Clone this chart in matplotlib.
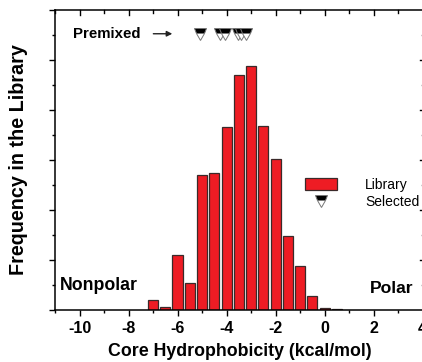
import matplotlib.pyplot as plt
from matplotlib.ticker import MultipleLocator, NullFormatter

plt.rcParams['font.family'] = ['Liberation Sans', 'DejaVu Sans']
plt.rcParams['axes.unicode_minus'] = False

# library histogram (bin centre in kcal/mol, relative frequency)
bin_centers = [-7.0, -6.5, -6.0, -5.5, -5.0, -4.5, -4.0, -3.5, -3.0, -2.5,
               -2.0, -1.5, -1.0, -0.5, 0.0, 0.5]
frequency = [0.40, 0.11, 2.20, 1.08, 5.39, 5.48, 7.33, 9.39, 9.75, 7.37,
             6.03, 2.95, 1.77, 0.55, 0.08, 0.04]

# premixed / selected sequences
selected_x = [-5.08, -4.25, -4.05, -3.55, -3.40, -3.20]
selected_y = [11.05] * len(selected_x)

fig = plt.figure(figsize=(4.22, 3.62), dpi=100)
ax = fig.add_axes([55 / 422, 52 / 362, 370 / 422, 300 / 362])

bars = ax.bar(bin_centers, frequency, width=0.41, color='#ee1c24',
              edgecolor='#3a2a2a', linewidth=0.9, label='Library')
sel, = ax.plot(selected_x, selected_y, linestyle='none', marker='v',
               markersize=8.5, fillstyle='top', markerfacecolor='black',
               markerfacecoloralt='white', markeredgecolor='#777777',
               markeredgewidth=0.7, label='Selected')

ax.set_xlim(-11, 4.1)
ax.set_ylim(0, 12)
ax.xaxis.set_major_locator(MultipleLocator(2))
ax.xaxis.set_minor_locator(MultipleLocator(1))
ax.yaxis.set_major_locator(MultipleLocator(2))
ax.yaxis.set_minor_locator(MultipleLocator(1))
ax.yaxis.set_major_formatter(NullFormatter())

for side in ['top', 'bottom', 'left', 'right']:
    ax.spines[side].set_linewidth(1.1)
ax.tick_params(which='both', direction='out', width=1.0, top=False, right=False)
ax.tick_params(which='major', length=4)
ax.tick_params(which='minor', length=2.2)
ax.tick_params(axis='x', labelsize=11.5, pad=4)
for lab in ax.get_xticklabels():
    lab.set_fontweight('bold')

# inward ticks on top and right, like the original
for x in range(-11, 5):
    ax.plot([x, x], [12, 12 - (0.18 if x % 2 == 0 else 0.12)],
            color='black', linewidth=1.0, clip_on=False)
for y in range(1, 12):
    ax.plot([4.1, 4.1 - (0.2 if y % 2 == 0 else 0.12)], [y, y],
            color='black', linewidth=1.0, clip_on=False)

ax.set_xlabel('Core Hydrophobicity (kcal/mol)', fontsize=12.8,
              fontweight='bold', labelpad=5)
ax.set_ylabel('Frequency in the Library', fontsize=14.2,
              fontweight='bold', labelpad=12)

ax.text(-10.8, 1.0, 'Nonpolar', fontsize=12.8, fontweight='bold', va='center')
ax.text(1.85, 0.85, 'Polar', fontsize=12.6, fontweight='bold', va='center')
ax.text(-10.26, 11.05, 'Premixed', fontsize=10.8, fontweight='bold',
        va='center')
ax.annotate('', xy=(-6.1, 11.05), xytext=(-7.1, 11.05),
            arrowprops=dict(arrowstyle='-|>', color='#222222', lw=1.0,
                            mutation_scale=8))

ax.legend(handles=[bars, sel], labels=['Library', 'Selected'],
          loc='upper left', bbox_to_anchor=(0.662, 0.46), frameon=False,
          fontsize=10, handlelength=2.3, handleheight=0.9,
          handletextpad=2.0, labelspacing=0.25, borderaxespad=0)

fig.savefig('out.png', dpi=100)
